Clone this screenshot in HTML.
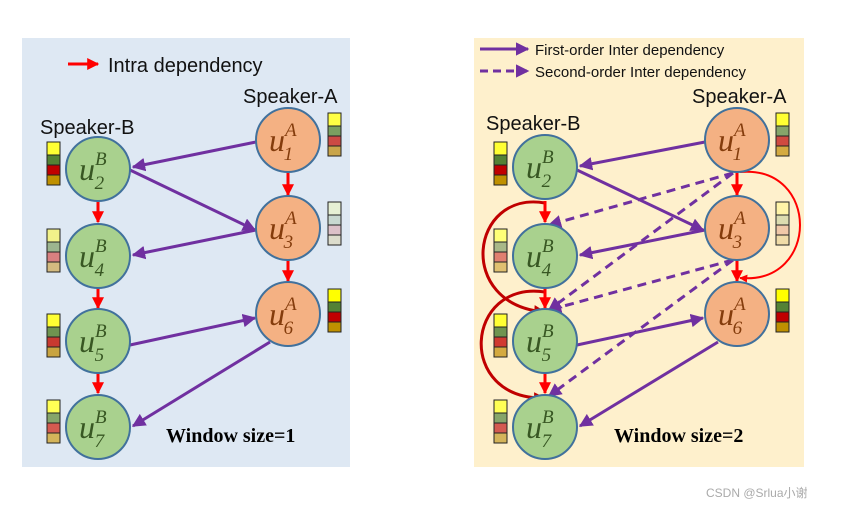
<!DOCTYPE html>
<html><head><meta charset="utf-8"><style>
html,body{margin:0;padding:0;background:#fff;width:842px;height:508px;overflow:hidden}
text{font-family:"Liberation Sans",sans-serif}
.u text{font-family:"Liberation Serif",serif;font-style:italic}
text.wb{font-family:"Liberation Serif",serif;font-weight:bold}
</style></head><body>
<svg width="842" height="508" viewBox="0 0 842 508" xmlns="http://www.w3.org/2000/svg">
<defs>
<marker id="ap" viewBox="0 0 10 10" refX="9" refY="5" markerWidth="4.5" markerHeight="4.5" orient="auto"><path d="M0,0L10,5L0,10z" fill="#7030a0"/></marker>
<marker id="ar" viewBox="0 0 10 10" refX="9" refY="5" markerWidth="4" markerHeight="4" orient="auto"><path d="M0,0L10,5L0,10z" fill="#ff0000"/></marker>
<marker id="ad" viewBox="0 0 10 10" refX="9" refY="5" markerWidth="4" markerHeight="4" orient="auto"><path d="M0,0L10,5L0,10z" fill="#c00000"/></marker>
</defs>
<rect x="22" y="38" width="328" height="429" fill="#dee8f3"/>
<rect x="474" y="38" width="330" height="429" fill="#fef0cc"/>

<!-- LEFT -->
<line x1="68" y1="64" x2="98" y2="64" stroke="#f00" stroke-width="3" marker-end="url(#ar)"/>
<text x="108" y="72" font-size="20" fill="#111">Intra dependency</text>
<text x="243" y="103" font-size="20" fill="#111">Speaker-A</text>
<text x="40" y="134" font-size="20" fill="#111">Speaker-B</text>

<g stroke="#f00" stroke-width="3" marker-end="url(#ar)">
<line x1="98" y1="201" x2="98" y2="222"/><line x1="98" y1="287" x2="98" y2="308"/><line x1="98" y1="372" x2="98" y2="393"/>
<line x1="288" y1="172" x2="288" y2="195"/><line x1="288" y1="260" x2="288" y2="281"/>
</g>
<g stroke="#7030a0" stroke-width="3" marker-end="url(#ap)">
<line x1="256" y1="142" x2="133" y2="167"/>
<line x1="130" y1="170" x2="255" y2="230"/>
<line x1="256" y1="230" x2="133" y2="255"/>
<line x1="130" y1="345" x2="255" y2="318"/>
<line x1="270" y1="342" x2="133" y2="426"/>
</g>

<!-- RIGHT -->
<line x1="480" y1="49" x2="528" y2="49" stroke="#7030a0" stroke-width="3" marker-end="url(#ap)"/>
<text x="535" y="55" font-size="15" fill="#111">First-order Inter dependency</text>
<line x1="480" y1="71" x2="528" y2="71" stroke="#7030a0" stroke-width="3" stroke-dasharray="8,5" marker-end="url(#ap)"/>
<text x="535" y="77" font-size="15" fill="#111">Second-order Inter dependency</text>
<text x="692" y="103" font-size="20" fill="#111">Speaker-A</text>
<text x="486" y="130" font-size="20" fill="#111">Speaker-B</text>

<g fill="none" stroke="#c00000" stroke-width="3" marker-end="url(#ad)">
<path d="M545,203 C470,190 455,305 545,312"/>
<path d="M545,292 C465,280 455,400 545,398"/>
</g>
<path d="M740,172 C820,165 820,285 740,278" fill="none" stroke="#f00" stroke-width="2" marker-end="url(#ar)"/>
<g stroke="#f00" stroke-width="3" marker-end="url(#ar)">
<line x1="545" y1="201" x2="545" y2="222"/><line x1="545" y1="287" x2="545" y2="308"/><line x1="545" y1="372" x2="545" y2="393"/>
<line x1="737" y1="172" x2="737" y2="195"/><line x1="737" y1="260" x2="737" y2="281"/>
</g>
<g stroke="#7030a0" stroke-width="3" stroke-dasharray="9,6" marker-end="url(#ap)">
<line x1="733" y1="173" x2="549" y2="225"/>
<line x1="733" y1="173" x2="549" y2="310"/>
<line x1="733" y1="260" x2="549" y2="310"/>
<line x1="733" y1="260" x2="549" y2="396"/>
</g>
<g stroke="#7030a0" stroke-width="3" marker-end="url(#ap)">
<line x1="705" y1="142" x2="580" y2="166"/>
<line x1="577" y1="170" x2="703" y2="230"/>
<line x1="705" y1="230" x2="580" y2="255"/>
<line x1="577" y1="345" x2="703" y2="318"/>
<line x1="718" y1="342" x2="580" y2="426"/>
</g>

<!-- nodes -->
<g stroke="#41719c" stroke-width="2">
<g fill="#a9d18e">
<circle cx="98" cy="169" r="32"/><circle cx="98" cy="256" r="32"/><circle cx="98" cy="341" r="32"/><circle cx="98" cy="427" r="32"/>
<circle cx="545" cy="167" r="32"/><circle cx="545" cy="256" r="32"/><circle cx="545" cy="341" r="32"/><circle cx="545" cy="427" r="32"/>
</g>
<g fill="#f4b183">
<circle cx="288" cy="140" r="32"/><circle cx="288" cy="228" r="32"/><circle cx="288" cy="314" r="32"/>
<circle cx="737" cy="140" r="32"/><circle cx="737" cy="228" r="32"/><circle cx="737" cy="314" r="32"/>
</g>
</g>
<g class="u" font-size="32" fill="#385723">
<text x="79" y="180">u<tspan font-size="19" dy="-15">B</tspan><tspan font-size="19" dx="-12" dy="24">2</tspan></text>
<text x="79" y="267">u<tspan font-size="19" dy="-15">B</tspan><tspan font-size="19" dx="-12" dy="24">4</tspan></text>
<text x="79" y="352">u<tspan font-size="19" dy="-15">B</tspan><tspan font-size="19" dx="-12" dy="24">5</tspan></text>
<text x="79" y="438">u<tspan font-size="19" dy="-15">B</tspan><tspan font-size="19" dx="-12" dy="24">7</tspan></text>
<text x="526" y="178">u<tspan font-size="19" dy="-15">B</tspan><tspan font-size="19" dx="-12" dy="24">2</tspan></text>
<text x="526" y="267">u<tspan font-size="19" dy="-15">B</tspan><tspan font-size="19" dx="-12" dy="24">4</tspan></text>
<text x="526" y="352">u<tspan font-size="19" dy="-15">B</tspan><tspan font-size="19" dx="-12" dy="24">5</tspan></text>
<text x="526" y="438">u<tspan font-size="19" dy="-15">B</tspan><tspan font-size="19" dx="-12" dy="24">7</tspan></text>
</g>
<g class="u" font-size="32" fill="#843c0c">
<text x="269" y="151">u<tspan font-size="19" dy="-15">A</tspan><tspan font-size="19" dx="-13" dy="24">1</tspan></text>
<text x="269" y="239">u<tspan font-size="19" dy="-15">A</tspan><tspan font-size="19" dx="-13" dy="24">3</tspan></text>
<text x="269" y="325">u<tspan font-size="19" dy="-15">A</tspan><tspan font-size="19" dx="-13" dy="24">6</tspan></text>
<text x="718" y="151">u<tspan font-size="19" dy="-15">A</tspan><tspan font-size="19" dx="-13" dy="24">1</tspan></text>
<text x="718" y="239">u<tspan font-size="19" dy="-15">A</tspan><tspan font-size="19" dx="-13" dy="24">3</tspan></text>
<text x="718" y="325">u<tspan font-size="19" dy="-15">A</tspan><tspan font-size="19" dx="-13" dy="24">6</tspan></text>
</g>

<!-- color bars -->
<g stroke="#222" stroke-width="1">
<rect x="47" y="142" width="13" height="13" fill="#ffff33"/><rect x="47" y="155" width="13" height="10" fill="#548235"/><rect x="47" y="165" width="13" height="10" fill="#c00000"/><rect x="47" y="175" width="13" height="10" fill="#bf9000"/>
<rect x="47" y="229" width="13" height="13" fill="#f2f28a"/><rect x="47" y="242" width="13" height="10" fill="#9cb58f"/><rect x="47" y="252" width="13" height="10" fill="#d88080"/><rect x="47" y="262" width="13" height="10" fill="#d4bb80"/>
<rect x="47" y="314" width="13" height="13" fill="#ffff33"/><rect x="47" y="327" width="13" height="10" fill="#6f9450"/><rect x="47" y="337" width="13" height="10" fill="#c83a30"/><rect x="47" y="347" width="13" height="10" fill="#c9a440"/>
<rect x="47" y="400" width="13" height="13" fill="#ffff55"/><rect x="47" y="413" width="13" height="10" fill="#86a56a"/><rect x="47" y="423" width="13" height="10" fill="#d45a50"/><rect x="47" y="433" width="13" height="10" fill="#d4b45a"/>
<rect x="328" y="113" width="13" height="13" fill="#ffff44"/><rect x="328" y="126" width="13" height="10" fill="#7a9f60"/><rect x="328" y="136" width="13" height="10" fill="#cc4a44"/><rect x="328" y="146" width="13" height="10" fill="#c9a54a"/>
<rect x="328" y="202" width="13" height="13" fill="#e6f0d4"/><rect x="328" y="215" width="13" height="10" fill="#c8d8d0"/><rect x="328" y="225" width="13" height="10" fill="#dcc0c8"/><rect x="328" y="235" width="13" height="10" fill="#dcdccc"/>
<rect x="328" y="289" width="13" height="13" fill="#ffff00"/><rect x="328" y="302" width="13" height="10" fill="#548235"/><rect x="328" y="312" width="13" height="10" fill="#c00000"/><rect x="328" y="322" width="13" height="10" fill="#bf9000"/>
<rect x="494" y="142" width="13" height="13" fill="#ffff33"/><rect x="494" y="155" width="13" height="10" fill="#548235"/><rect x="494" y="165" width="13" height="10" fill="#c00000"/><rect x="494" y="175" width="13" height="10" fill="#bf9000"/>
<rect x="494" y="229" width="13" height="13" fill="#ffff77"/><rect x="494" y="242" width="13" height="10" fill="#a8b888"/><rect x="494" y="252" width="13" height="10" fill="#e08070"/><rect x="494" y="262" width="13" height="10" fill="#e0c070"/>
<rect x="494" y="314" width="13" height="13" fill="#ffff33"/><rect x="494" y="327" width="13" height="10" fill="#6f9450"/><rect x="494" y="337" width="13" height="10" fill="#d03a30"/><rect x="494" y="347" width="13" height="10" fill="#d4aa40"/>
<rect x="494" y="400" width="13" height="13" fill="#ffff55"/><rect x="494" y="413" width="13" height="10" fill="#86a56a"/><rect x="494" y="423" width="13" height="10" fill="#d45a50"/><rect x="494" y="433" width="13" height="10" fill="#d4b45a"/>
<rect x="776" y="113" width="13" height="13" fill="#ffff33"/><rect x="776" y="126" width="13" height="10" fill="#86a56a"/><rect x="776" y="136" width="13" height="10" fill="#d04a40"/><rect x="776" y="146" width="13" height="10" fill="#d4aa40"/>
<rect x="776" y="202" width="13" height="13" fill="#fff4a8"/><rect x="776" y="215" width="13" height="10" fill="#dcdcb0"/><rect x="776" y="225" width="13" height="10" fill="#f0c8a8"/><rect x="776" y="235" width="13" height="10" fill="#f0dca8"/>
<rect x="776" y="289" width="13" height="13" fill="#ffff00"/><rect x="776" y="302" width="13" height="10" fill="#548235"/><rect x="776" y="312" width="13" height="10" fill="#c00000"/><rect x="776" y="322" width="13" height="10" fill="#bf9000"/>
</g>

<text class="wb" x="166" y="442" font-size="20" fill="#000">Window size=1</text>
<text class="wb" x="614" y="442" font-size="20" fill="#000">Window size=2</text>
<text x="706" y="497" font-size="12" fill="#aaa" style="font-family:'Liberation Sans','Noto Sans CJK SC',sans-serif">CSDN @Srlua小谢</text>
</svg>
</body></html>
